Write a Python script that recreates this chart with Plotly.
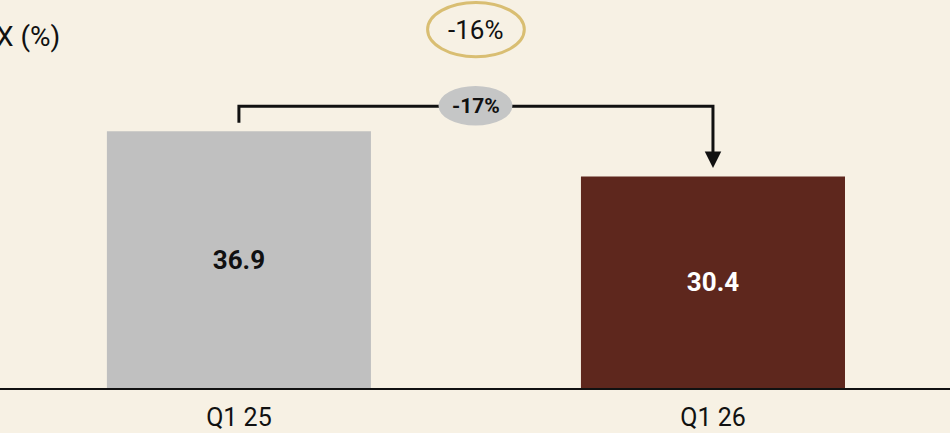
import plotly.graph_objects as go

categories = ["Q1 25", "Q1 26"]
values = [36.9, 30.4]
bar_colors = ["#C0C0C0", "#5E271D"]
label_colors = ["#111111", "#FFFFFF"]
change_bar = "-17%"
change_total = "-16%"
title_text = "X (%)"

bg = "#F7F1E4"
font_family = "Roboto, sans-serif"

fig = go.Figure()
fig.add_trace(go.Bar(
    x=[0, 1], y=values, width=0.557,
    marker=dict(color=bar_colors, line=dict(width=0)),
    text=[f"{v:.1f}" for v in values], textposition="inside",
    insidetextanchor="middle",
    textfont=dict(family=font_family, size=26, color=label_colors, weight="bold"),
    hoverinfo="skip",
))

y_bracket = 40.5
y_start = 38.1
y_tip = 31.6

fig.add_shape(type="path", xref="x", yref="y",
              path=f"M 0 {y_start} L 0 {y_bracket} L 1 {y_bracket} L 1 {y_tip + 1.5}",
              line=dict(color="#111111", width=3))
fig.add_annotation(x=1, y=y_tip, ax=1, ay=y_tip + 2.4, xref="x", yref="y",
                   axref="x", ayref="y", showarrow=True, arrowhead=2,
                   arrowsize=1.1, arrowwidth=3, arrowcolor="#111111", text="")
fig.add_shape(type="circle", xref="x", yref="y", x0=0.421, x1=0.577,
              y0=37.7, y1=43.4, fillcolor="#C5C6C6", line=dict(width=0), layer="above")
fig.add_annotation(x=0.5, y=y_bracket, xref="x", yref="y", text=f"<b>{change_bar}</b>",
                   showarrow=False, font=dict(family=font_family, size=21, color="#111111"))
fig.add_shape(type="circle", xref="x", yref="y", x0=0.398, x1=0.602,
              y0=47.6, y1=55.4, fillcolor="rgba(0,0,0,0)",
              line=dict(color="#D9BE72", width=3))
fig.add_annotation(x=0.5, y=51.5, xref="x", yref="y", text=change_total,
                   showarrow=False, font=dict(family=font_family, size=26, color="#111111"))
fig.add_annotation(xref="paper", yref="paper", x=62/950, y=1 - 36/388,
                   xanchor="right", yanchor="middle", text=title_text, showarrow=False,
                   font=dict(family=font_family, size=28, color="#111111"))

fig.update_layout(
    width=950, height=433, paper_bgcolor=bg, plot_bgcolor=bg,
    margin=dict(l=0, r=0, t=0, b=45), showlegend=False,
    xaxis=dict(range=[-0.504, 1.5], tickvals=[0, 1], ticktext=categories,
               showgrid=False, zeroline=False, showline=True, linecolor="#111111",
               linewidth=1.5, ticks="", ticklabelstandoff=6,
               tickfont=dict(family=font_family, size=25, color="#111111")),
    yaxis=dict(range=[0, 55.75], visible=False, showgrid=False, zeroline=False),
)
fig.write_html("out.html", config={"displayModeBar": False},
               post_script="document.body.style.margin='0';document.body.style.overflow='hidden';")
